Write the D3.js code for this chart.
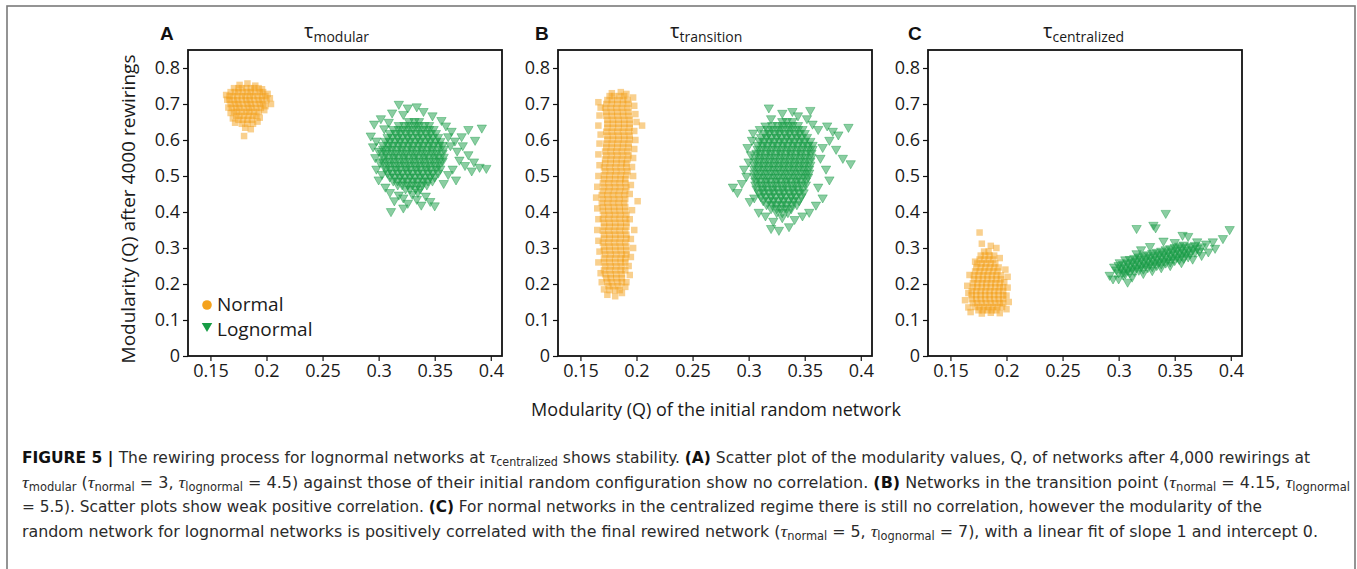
<!DOCTYPE html>
<html><head><meta charset="utf-8">
<script src="https://cdn.jsdelivr.net/npm/d3@7"></script>
<style>body{margin:0;background:#fff}svg{display:block}</style>
</head><body>
<svg id="chart" width="1357" height="569"></svg>
<script>
// ---------------- DATA ----------------
const panelLetters = ["A", "B", "C"];
const panelTitles = ["modular", "transition", "centralized"];
const seriesNames = ["Normal", "Lognormal"];
const xTicks = [0.15, 0.2, 0.25, 0.3, 0.35, 0.4];
const xTickLabels = ["0.15", "0.2", "0.25", "0.3", "0.35", "0.4"];
const yTicks = [0, 0.1, 0.2, 0.3, 0.4, 0.5, 0.6, 0.7, 0.8];
const yTickLabels = ["0", "0.1", "0.2", "0.3", "0.4", "0.5", "0.6", "0.7", "0.8"];
const xAxisTitle = "Modularity (Q) of the initial random network";
const yAxisTitle = "Modularity (Q) after 4000 rewirings";

// dense cores as rows [y, x1, x2, ...]; sparse points as [x, y]
const normalA_core = [
 [0.744,0.171,0.175,0.178,0.182,0.186,0.189,0.193],
 [0.733,0.168,0.172,0.175,0.179,0.183,0.186,0.190,0.194,0.197],
 [0.722,0.167,0.170,0.174,0.178,0.181,0.185,0.188,0.192,0.196,0.199],
 [0.711,0.167,0.171,0.174,0.178,0.182,0.185,0.189,0.193,0.196,0.200],
 [0.700,0.168,0.172,0.175,0.179,0.183,0.186,0.190,0.194,0.197],
 [0.689,0.169,0.173,0.176,0.180,0.184,0.187,0.191,0.195],
 [0.678,0.171,0.174,0.178,0.182,0.185,0.189,0.193],
 [0.667,0.173,0.176,0.180,0.184,0.188,0.191],
 [0.656,0.175,0.179,0.183,0.187],
 [0.645,0.178,0.183,0.188]
];
const normalA_spread = [[0.180,0.611],[0.186,0.630],[0.172,0.648],[0.192,0.651],[0.203,0.716],[0.204,0.700],[0.201,0.728],[0.183,0.757],[0.176,0.753],[0.165,0.712],[0.166,0.690],[0.198,0.683],[0.190,0.751],[0.170,0.660],[0.164,0.725],[0.196,0.741],[0.199,0.694],[0.168,0.675],[0.194,0.662],[0.181,0.634]];

const lognormalA_core = [
 [0.652,0.327,0.332,0.336],
 [0.641,0.318,0.323,0.327,0.332,0.336,0.341,0.345],
 [0.630,0.313,0.318,0.322,0.327,0.331,0.336,0.340,0.345,0.349],
 [0.619,0.310,0.315,0.319,0.324,0.328,0.333,0.337,0.342,0.346,0.351],
 [0.608,0.308,0.312,0.317,0.321,0.326,0.330,0.335,0.339,0.344,0.348,0.353],
 [0.597,0.306,0.310,0.315,0.319,0.324,0.328,0.333,0.337,0.342,0.346,0.351,0.355],
 [0.586,0.304,0.309,0.313,0.318,0.322,0.327,0.331,0.336,0.340,0.345,0.349,0.354,0.357],
 [0.575,0.304,0.308,0.312,0.317,0.321,0.326,0.330,0.335,0.339,0.344,0.348,0.353,0.358],
 [0.564,0.303,0.307,0.312,0.316,0.321,0.325,0.330,0.334,0.339,0.343,0.348,0.352,0.357],
 [0.553,0.304,0.308,0.313,0.317,0.322,0.326,0.331,0.335,0.340,0.344,0.349,0.353,0.358],
 [0.542,0.304,0.309,0.313,0.318,0.322,0.327,0.331,0.336,0.340,0.345,0.349,0.354,0.357],
 [0.531,0.305,0.309,0.314,0.318,0.323,0.327,0.332,0.336,0.341,0.345,0.350,0.354],
 [0.520,0.306,0.310,0.315,0.319,0.324,0.328,0.333,0.337,0.342,0.346,0.351,0.355],
 [0.509,0.308,0.312,0.317,0.321,0.326,0.330,0.335,0.339,0.344,0.348,0.353],
 [0.498,0.310,0.314,0.319,0.323,0.328,0.332,0.337,0.341,0.346,0.350],
 [0.487,0.313,0.317,0.322,0.326,0.331,0.335,0.340,0.344,0.348],
 [0.476,0.317,0.321,0.326,0.330,0.335,0.339,0.343],
 [0.465,0.324,0.328,0.333,0.337]
];
const lognormalA_spread = [[0.318,0.700],[0.326,0.690],[0.334,0.693],[0.312,0.676],[0.322,0.672],[0.340,0.680],[0.348,0.668],[0.356,0.655],[0.302,0.660],[0.309,0.650],[0.296,0.645],[0.305,0.632],
 [0.293,0.612],[0.298,0.598],[0.295,0.582],[0.300,0.570],[0.297,0.552],[0.301,0.538],[0.298,0.520],[0.303,0.505],[0.300,0.490],
 [0.306,0.470],[0.310,0.455],[0.318,0.448],[0.314,0.432],[0.322,0.440],[0.330,0.450],[0.326,0.425],[0.334,0.436],[0.342,0.445],[0.338,0.420],[0.346,0.430],[0.311,0.402],[0.322,0.412],[0.350,0.418],[0.335,0.455],
 [0.360,0.640],[0.365,0.625],[0.362,0.610],[0.368,0.598],[0.364,0.585],[0.370,0.570],[0.375,0.585],[0.380,0.560],[0.372,0.545],[0.385,0.540],[0.390,0.525],[0.396,0.522],[0.383,0.515],[0.377,0.530],[0.366,0.520],[0.362,0.505],[0.369,0.490],[0.358,0.480],[0.386,0.600],[0.392,0.634],[0.380,0.630],[0.374,0.610]];

const normalB_core = [
 [0.722,0.176,0.180,0.185,0.189],
 [0.711,0.174,0.178,0.183,0.188,0.192],
 [0.700,0.173,0.178,0.183,0.188,0.193],
 [0.689,0.172,0.177,0.182,0.187,0.192],
 [0.678,0.173,0.178,0.183,0.188,0.193],
 [0.667,0.173,0.178,0.183,0.188,0.193],
 [0.656,0.174,0.179,0.184,0.189,0.194],
 [0.645,0.174,0.179,0.184,0.189,0.194],
 [0.634,0.174,0.179,0.184,0.189,0.194],
 [0.623,0.173,0.178,0.183,0.188,0.193],
 [0.612,0.174,0.179,0.184,0.189,0.194],
 [0.601,0.174,0.179,0.184,0.189,0.194],
 [0.590,0.173,0.178,0.183,0.188,0.193],
 [0.579,0.173,0.178,0.183,0.188,0.193],
 [0.568,0.172,0.177,0.182,0.187,0.192],
 [0.557,0.173,0.178,0.183,0.188,0.193],
 [0.546,0.172,0.177,0.182,0.187,0.192],
 [0.535,0.172,0.177,0.182,0.187,0.191],
 [0.524,0.171,0.176,0.181,0.186,0.191],
 [0.513,0.172,0.177,0.182,0.187,0.192],
 [0.502,0.171,0.176,0.181,0.186,0.191],
 [0.491,0.171,0.176,0.181,0.186,0.190],
 [0.480,0.170,0.175,0.180,0.185,0.190],
 [0.469,0.171,0.176,0.181,0.186,0.191],
 [0.458,0.170,0.175,0.180,0.185,0.190],
 [0.447,0.169,0.174,0.179,0.184,0.189],
 [0.436,0.170,0.175,0.180,0.185,0.190],
 [0.425,0.169,0.174,0.179,0.184,0.189],
 [0.414,0.170,0.175,0.180,0.185,0.190],
 [0.403,0.170,0.175,0.180,0.185,0.190],
 [0.392,0.171,0.176,0.181,0.186,0.191],
 [0.381,0.170,0.175,0.180,0.185,0.190],
 [0.370,0.171,0.176,0.181,0.186,0.191],
 [0.359,0.171,0.176,0.181,0.186,0.191],
 [0.348,0.170,0.175,0.180,0.185,0.190],
 [0.337,0.171,0.176,0.181,0.186,0.191],
 [0.326,0.171,0.176,0.181,0.186,0.191],
 [0.315,0.170,0.175,0.180,0.185,0.190],
 [0.304,0.171,0.176,0.181,0.186,0.191],
 [0.293,0.171,0.176,0.181,0.186,0.191],
 [0.282,0.172,0.177,0.182,0.187,0.191],
 [0.271,0.171,0.176,0.181,0.186,0.190],
 [0.260,0.171,0.176,0.181,0.186,0.190],
 [0.249,0.172,0.177,0.182,0.187],
 [0.238,0.171,0.176,0.181,0.186,0.190],
 [0.227,0.172,0.177,0.182,0.187],
 [0.216,0.173,0.177,0.182,0.187],
 [0.205,0.174,0.178,0.183,0.187],
 [0.194,0.175,0.179,0.184],
 [0.183,0.176,0.181,0.185]
];
const normalB_spread = [[0.166,0.705],[0.168,0.690],[0.167,0.668],[0.166,0.640],[0.168,0.615],[0.167,0.590],[0.166,0.560],[0.167,0.530],[0.166,0.500],[0.165,0.470],[0.164,0.440],[0.165,0.410],[0.166,0.380],[0.165,0.350],[0.166,0.320],[0.167,0.290],[0.166,0.260],[0.168,0.230],[0.169,0.205],
 [0.197,0.718],[0.198,0.695],[0.199,0.672],[0.200,0.650],[0.205,0.640],[0.198,0.625],[0.199,0.600],[0.198,0.575],[0.197,0.550],[0.196,0.525],[0.197,0.500],[0.195,0.475],[0.194,0.450],[0.201,0.430],[0.196,0.405],[0.194,0.380],[0.198,0.350],[0.195,0.325],[0.197,0.300],[0.195,0.275],[0.193,0.250],[0.194,0.225],[0.191,0.205],
 [0.178,0.730],[0.186,0.733],[0.191,0.728],[0.174,0.170],[0.181,0.166],[0.187,0.175],[0.171,0.185],[0.190,0.192]];

const lognormalB_core = [
 [0.652,0.330,0.334,0.339],
 [0.641,0.321,0.326,0.330,0.335,0.339,0.344],
 [0.630,0.317,0.321,0.326,0.330,0.335,0.339,0.344,0.348],
 [0.619,0.314,0.318,0.323,0.327,0.332,0.336,0.341,0.345,0.350],
 [0.608,0.311,0.316,0.320,0.325,0.329,0.334,0.338,0.343,0.347,0.352],
 [0.597,0.310,0.314,0.319,0.323,0.328,0.332,0.337,0.341,0.346,0.350,0.355],
 [0.586,0.308,0.313,0.317,0.322,0.326,0.331,0.335,0.340,0.344,0.349,0.353,0.357],
 [0.575,0.308,0.312,0.317,0.321,0.326,0.330,0.335,0.339,0.344,0.348,0.353,0.357],
 [0.564,0.307,0.311,0.316,0.320,0.325,0.329,0.334,0.338,0.343,0.347,0.352,0.356],
 [0.553,0.306,0.311,0.315,0.320,0.324,0.329,0.333,0.338,0.342,0.347,0.351,0.356],
 [0.542,0.306,0.310,0.315,0.319,0.324,0.328,0.333,0.337,0.342,0.346,0.351,0.355],
 [0.531,0.305,0.310,0.314,0.319,0.323,0.328,0.332,0.337,0.341,0.346,0.350,0.355],
 [0.520,0.305,0.309,0.314,0.318,0.323,0.327,0.332,0.336,0.341,0.345,0.350,0.354],
 [0.509,0.305,0.310,0.314,0.319,0.323,0.328,0.332,0.337,0.341,0.346,0.350,0.354],
 [0.498,0.305,0.309,0.314,0.318,0.323,0.327,0.332,0.336,0.341,0.345,0.350,0.353],
 [0.487,0.306,0.310,0.315,0.319,0.324,0.328,0.333,0.337,0.342,0.346,0.351],
 [0.476,0.306,0.311,0.315,0.320,0.324,0.329,0.333,0.338,0.342,0.347,0.351],
 [0.465,0.307,0.312,0.316,0.321,0.325,0.330,0.334,0.339,0.343,0.348],
 [0.454,0.309,0.313,0.318,0.322,0.327,0.331,0.336,0.340,0.345,0.349],
 [0.443,0.311,0.315,0.320,0.324,0.329,0.333,0.338,0.342,0.347],
 [0.432,0.313,0.318,0.322,0.327,0.331,0.336,0.340,0.345],
 [0.421,0.316,0.321,0.325,0.330,0.334,0.339,0.343],
 [0.410,0.320,0.325,0.329,0.334,0.338],
 [0.399,0.325,0.330,0.335]
];
const lognormalB_spread = [[0.286,0.470],[0.290,0.455],[0.294,0.480],[0.298,0.500],[0.296,0.520],[0.300,0.540],[0.302,0.560],[0.299,0.580],[0.303,0.600],[0.305,0.440],[0.301,0.430],[0.304,0.620],
 [0.315,0.640],[0.320,0.660],[0.318,0.690],[0.339,0.680],[0.344,0.668],[0.355,0.683],[0.352,0.660],[0.357,0.645],[0.310,0.630],[0.330,0.675],
 [0.362,0.630],[0.370,0.640],[0.375,0.625],[0.380,0.615],[0.389,0.636],[0.391,0.535],[0.372,0.600],[0.366,0.580],[0.378,0.575],[0.364,0.550],[0.369,0.520],[0.372,0.490],[0.362,0.470],[0.366,0.440],[0.360,0.420],[0.384,0.550],
 [0.315,0.390],[0.322,0.375],[0.330,0.385],[0.336,0.360],[0.341,0.380],[0.348,0.390],[0.320,0.355],[0.327,0.350],[0.354,0.400],[0.309,0.400]];

const normalC_core = [
 [0.290,0.180,0.184],
 [0.279,0.177,0.181,0.185,0.189],
 [0.268,0.176,0.180,0.184,0.188],
 [0.257,0.174,0.178,0.182,0.186,0.190],
 [0.246,0.173,0.177,0.181,0.185,0.189,0.193],
 [0.235,0.172,0.176,0.180,0.184,0.188,0.192],
 [0.224,0.171,0.175,0.179,0.183,0.187,0.191,0.195],
 [0.213,0.171,0.175,0.179,0.183,0.187,0.191,0.195],
 [0.202,0.170,0.174,0.178,0.182,0.186,0.190,0.194],
 [0.191,0.170,0.174,0.178,0.182,0.186,0.190,0.194,0.197],
 [0.180,0.169,0.173,0.177,0.181,0.185,0.189,0.193,0.197],
 [0.169,0.169,0.173,0.177,0.181,0.185,0.189,0.193,0.197],
 [0.158,0.169,0.173,0.177,0.181,0.185,0.189,0.193,0.197],
 [0.147,0.170,0.174,0.178,0.182,0.186,0.190,0.194,0.197],
 [0.136,0.172,0.176,0.180,0.184,0.188,0.192,0.196],
 [0.127,0.175,0.179,0.183,0.187,0.191]
];
const normalC_spread = [[0.176,0.343],[0.178,0.312],[0.186,0.306],[0.191,0.300],[0.172,0.262],[0.194,0.272],[0.199,0.240],[0.201,0.220],[0.167,0.225],[0.165,0.195],[0.201,0.190],[0.163,0.155],[0.202,0.150],[0.200,0.130],[0.166,0.135],[0.168,0.122],[0.178,0.118],[0.186,0.120],[0.194,0.119],[0.166,0.175],[0.200,0.168],[0.198,0.205]];

const lognormalC_core = [[0.298,0.240],[0.302,0.244],[0.306,0.247],[0.310,0.250],[0.314,0.254],[0.318,0.257],[0.322,0.260],[0.326,0.264],[0.330,0.267],[0.334,0.270],[0.338,0.274],[0.342,0.277],[0.346,0.280],[0.350,0.284],[0.354,0.287],[0.358,0.290],[0.362,0.294],[0.366,0.297],[0.370,0.300],[0.374,0.304],
 [0.300,0.252],[0.304,0.255],[0.308,0.259],[0.312,0.262],[0.316,0.265],[0.320,0.269],[0.324,0.272],[0.328,0.275],[0.332,0.279],[0.336,0.282],[0.340,0.285],[0.344,0.289],[0.348,0.292],[0.352,0.295],[0.356,0.299],[0.360,0.302],[0.364,0.305],[0.368,0.308],
 [0.300,0.232],[0.304,0.235],[0.308,0.239],[0.312,0.242],[0.316,0.245],[0.320,0.249],[0.324,0.252],[0.328,0.255],[0.332,0.259],[0.336,0.262],[0.340,0.265],[0.344,0.269],[0.348,0.272],[0.352,0.275],[0.356,0.279],[0.360,0.282],[0.364,0.285],[0.368,0.289],[0.372,0.292],
 [0.310,0.269],[0.318,0.276],[0.326,0.282],[0.334,0.289],[0.342,0.296],[0.350,0.302],[0.358,0.309],[0.314,0.272],[0.322,0.279],[0.330,0.286],[0.338,0.292],[0.346,0.299],[0.354,0.306],
 [0.306,0.229],[0.314,0.236],[0.322,0.242],[0.330,0.249],[0.338,0.256],[0.346,0.262],[0.354,0.269],[0.362,0.276],[0.310,0.232],[0.318,0.239],[0.326,0.246],[0.334,0.252],[0.342,0.259],[0.350,0.266],[0.358,0.272]];
const lognormalC_spread = [[0.292,0.225],[0.295,0.215],[0.300,0.215],[0.308,0.206],[0.312,0.220],[0.296,0.248],[0.301,0.260],[0.306,0.268],[0.316,0.285],[0.320,0.296],[0.322,0.230],[0.330,0.238],[0.338,0.246],[0.316,0.355],[0.331,0.364],[0.333,0.357],[0.342,0.397],[0.340,0.320],[0.328,0.305],[0.346,0.252],[0.356,0.260],[0.366,0.270],[0.374,0.280],[0.380,0.290],[0.357,0.336],[0.362,0.333],[0.384,0.318],[0.393,0.327],[0.399,0.352],[0.378,0.312],[0.370,0.318],[0.350,0.316],[0.386,0.300],[0.304,0.226]];

const captionLines = [
 [{t:"FIGURE 5 | ",b:1},{t:"The rewiring process for lognormal networks at "},{t:"τ",m:1},{t:"centralized",s:1},{t:" shows stability. "},{t:"(A)",b:1},{t:" Scatter plot of the modularity values, Q, of networks after 4,000 rewirings at"}],
 [{t:"τ",m:1},{t:"modular",s:1},{t:" ("},{t:"τ",m:1},{t:"normal",s:1},{t:" = 3, "},{t:"τ",m:1},{t:"lognormal",s:1},{t:" = 4.5) against those of their initial random configuration show no correlation. "},{t:"(B)",b:1},{t:" Networks in the transition point ("},{t:"τ",m:1},{t:"normal",s:1},{t:" = 4.15, "},{t:"τ",m:1},{t:"lognormal",s:1}],
 [{t:"= 5.5). Scatter plots show weak positive correlation. "},{t:"(C)",b:1},{t:" For normal networks in the centralized regime there is still no correlation, however the modularity of the"}],
 [{t:"random network for lognormal networks is positively correlated with the final rewired network ("},{t:"τ",m:1},{t:"normal",s:1},{t:" = 5, "},{t:"τ",m:1},{t:"lognormal",s:1},{t:" = 7), with a linear fit of slope 1 and intercept 0."}]
];

// ---------------- DRAW ----------------
const fromRows = rows => rows.flatMap(r => r.slice(1).map(x => [x, r[0]]));
const panels = [
 {normal: fromRows(normalA_core).concat(normalA_spread), lognormal: fromRows(lognormalA_core).concat(lognormalA_spread)},
 {normal: fromRows(normalB_core).concat(normalB_spread), lognormal: fromRows(lognormalB_core).concat(lognormalB_spread)},
 {normal: fromRows(normalC_core).concat(normalC_spread), lognormal: lognormalC_core.concat(lognormalC_spread)}
];

const svg = d3.select("#chart");
svg.append("rect").attr("width",1357).attr("height",569).attr("fill","#fff");
svg.append("rect").attr("x",7).attr("y",6).attr("width",1348).attr("height",600)
  .attr("fill","none").attr("stroke","#7a7a7a").attr("stroke-width",1.6);

const FONT = "'Open Sans', 'Noto Sans', sans-serif";
const ORANGE = "#F4A21D", GREEN = "#179C45";
const panelLeft = [188, 558, 928], PW = 314, TOP = 50, BOTTOM = 356;
const titleX = [304, 670, 1043], letterX = [160, 535, 908];

const sq = d3.symbol(d3.symbolSquare, 42)();
const tri = d3.symbol(d3.symbolTriangle, 38)();

panels.forEach((p, i) => {
  const L = panelLeft[i];
  const x = d3.scaleLinear().domain([0.13, 0.41]).range([L, L + PW]);
  const y = d3.scaleLinear().domain([0, 0.85]).range([BOTTOM, TOP]);
  const g = svg.append("g");

  g.append("g").selectAll("path").data(p.normal).join("path")
    .attr("d", sq).attr("transform", d => `translate(${x(d[0])},${y(d[1])})`)
    .attr("fill", ORANGE).attr("fill-opacity", 0.5);
  g.append("g").selectAll("path").data(p.lognormal).join("path")
    .attr("d", tri).attr("transform", d => `translate(${x(d[0])},${y(d[1])}) rotate(180)`)
    .attr("fill", GREEN).attr("fill-opacity", 0.5)
    .attr("stroke", GREEN).attr("stroke-opacity", 0.6).attr("stroke-width", 0.7);

  const xa = g.append("g").attr("transform", `translate(0,${BOTTOM})`)
    .call(d3.axisBottom(x).tickValues(xTicks).tickFormat((d, k) => xTickLabels[k]).tickSize(5).tickPadding(3));
  const ya = g.append("g").attr("transform", `translate(${L},0)`)
    .call(d3.axisLeft(y).tickValues(yTicks).tickFormat((d, k) => yTickLabels[k]).tickSize(5).tickPadding(3));
  [xa, ya].forEach(a => {
    a.select(".domain").remove();
    a.selectAll("line").attr("stroke", "#111").attr("stroke-width", 1.2);
    a.selectAll("text").attr("font-family", FONT).attr("font-size", 18).attr("fill", "#1a1a1a");
  });

  g.append("rect").attr("x", L).attr("y", TOP).attr("width", PW).attr("height", BOTTOM - TOP)
    .attr("fill", "none").attr("stroke", "#111").attr("stroke-width", 1.8);

  const t = g.append("text").attr("x", titleX[i]).attr("y", 38).attr("font-family", FONT).attr("fill", "#1a1a1a");
  t.append("tspan").attr("font-size", 20).text("τ");
  t.append("tspan").attr("font-size", 14).attr("dy", 4).text(panelTitles[i]);

  g.append("text").attr("x", letterX[i]).attr("y", 40).attr("font-family", "'Liberation Sans', Arial, sans-serif")
    .attr("font-weight", "bold").attr("font-size", 19).attr("fill", "#111").text(panelLetters[i]);
});

// legend (panel A)
svg.append("circle").attr("cx", 207).attr("cy", 305).attr("r", 4.8).attr("fill", ORANGE);
svg.append("path").attr("d", d3.symbol(d3.symbolTriangle, 48)()).attr("transform", "translate(207,326) rotate(180)").attr("fill", GREEN);
svg.append("text").attr("x", 217).attr("y", 311).attr("font-family", FONT).attr("font-size", 19).attr("fill", "#1a1a1a").text(seriesNames[0]);
svg.append("text").attr("x", 217).attr("y", 336).attr("font-family", FONT).attr("font-size", 19).attr("fill", "#1a1a1a").text(seriesNames[1]);

// axis titles
svg.append("text").attr("x", 716).attr("y", 416).attr("text-anchor", "middle").attr("font-family", FONT)
  .attr("font-size", 18).attr("fill", "#1a1a1a").text(xAxisTitle);
svg.append("text").attr("transform", "translate(135,209) rotate(-90)").attr("text-anchor", "middle").attr("font-family", FONT)
  .attr("font-size", 19).attr("fill", "#1a1a1a").text(yAxisTitle);

// caption
const CAPF = "'Liberation Sans Narrow', 'DejaVu Sans Condensed', 'Liberation Sans', sans-serif";
const capY = [463, 488, 512, 537];
const capEnd = [1310, 1350, 1262, 1318];
captionLines.forEach((segs, li) => {
  const txt = svg.append("text").attr("x", 22).attr("y", capY[li]).attr("font-family", CAPF)
    .attr("font-size", 16).attr("fill", "#2b2b2b");
  let shifted = false;
  segs.forEach(s => {
    const ts = txt.append("tspan").text(s.t);
    if (s.s) { ts.attr("font-size", 11.5); if (!shifted) { ts.attr("dy", 3); shifted = true; } }
    else if (shifted) { ts.attr("dy", -3); shifted = false; }
    if (s.b) ts.attr("font-weight", "bold").attr("fill", "#111");
    if (s.m) ts.attr("font-family", "'Liberation Serif', serif").attr("font-style", "italic").attr("font-size", 17);
  });
  txt.attr("textLength", capEnd[li] - 22).attr("lengthAdjust", "spacingAndGlyphs");
});
</script>
</body></html>
